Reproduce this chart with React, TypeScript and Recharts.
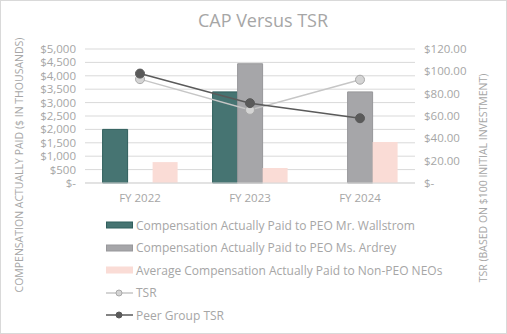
import React from 'react';
import { ComposedChart, Bar, Line, XAxis, YAxis, CartesianGrid } from 'recharts';

const years = ['FY 2022', 'FY 2023', 'FY 2024'];
const capWallstrom: (number | null)[] = [2000, 3400, null];
const capArdrey: (number | null)[] = [null, 4450, 3400];
const capNonPeo: number[] = [780, 560, 1530];
const tsr: number[] = [93, 65.5, 92.5];
const peerTsr: number[] = [98, 71.5, 58];
const leftTicks = [0, 500, 1000, 1500, 2000, 2500, 3000, 3500, 4000, 4500, 5000];
const rightTicks = [0, 20, 40, 60, 80, 100, 120];

const data = years.map((y, i) => ({
  year: y,
  wallstrom: capWallstrom[i],
  ardrey: capArdrey[i],
  nonpeo: capNonPeo[i],
  tsr: tsr[i],
  peer: peerTsr[i],
}));

const FONT = '"Open Sans", sans-serif';
const TXT = '#a6a6a6';

const legendItems = [
  { name: 'Compensation Actually Paid to PEO Mr. Wallstrom', type: 'bar', fill: '#467472', stroke: '#2f5e5c' },
  { name: 'Compensation Actually Paid to PEO Ms. Ardrey', type: 'bar', fill: '#a6a6a9', stroke: '#98989b' },
  { name: 'Average Compensation Actually Paid to Non-PEO NEOs', type: 'bar', fill: '#fadcd6', stroke: '#fadcd6' },
  { name: 'TSR', type: 'line', fill: '#d4d4d4', stroke: '#c6c6c6', dotStroke: '#a9a9a9' },
  { name: 'Peer Group TSR', type: 'line', fill: '#5a5a5a', stroke: '#5a5a5a', dotStroke: '#5a5a5a' },
];

const ChartLegend = () => (
  <div
    style={{
      position: 'absolute', left: 106, top: 214, fontFamily: FONT, fontSize: 12, color: TXT,
      whiteSpace: 'nowrap',
    }}
  >
    {legendItems.map((it) => (
      <div key={it.name} style={{ display: 'flex', alignItems: 'center', height: 22.5 }}>
        <svg width={28} height={10} style={{ marginRight: 2 }}>
          {it.type === 'bar' ? (
            <rect x={0.5} y={2} width={26} height={6} fill={it.fill} stroke={it.stroke} />
          ) : (
            <g>
              <line x1={0} y1={5} x2={27} y2={5} stroke={it.stroke} strokeWidth={1.5} />
              <circle cx={13} cy={5} r={3} fill={it.fill} stroke={it.dotStroke} />
            </g>
          )}
        </svg>
        <span>{it.name}</span>
      </div>
    ))}
  </div>
);

const leftFmt = (v: number) => (v === 0 ? '$-' : '$' + v.toLocaleString('en-US'));
const rightFmt = (v: number) => (v === 0 ? '$-' : '$' + v.toFixed(2));

export default function App() {
  return (
    <div style={{ position: 'absolute', left: 0, top: 0, width: 507, height: 334, background: '#fff' }}>
      <div
        style={{
          position: 'absolute', left: 0, top: 0, width: 507, height: 334, boxSizing: 'border-box',
          border: '1px solid #d9d9d9', pointerEvents: 'none', zIndex: 2,
        }}
      />
      <div
        style={{
          position: 'absolute', left: 263, top: 6, transform: 'translateX(-50%)', whiteSpace: 'nowrap',
          fontFamily: FONT, fontSize: 18, color: TXT, lineHeight: '28px',
        }}
      >
        CAP Versus TSR
      </div>
      <ComposedChart
        width={507}
        height={334}
        data={data}
        margin={{ top: 49, right: 0, bottom: 121, left: 0 }}
        barCategoryGap="16%"
        barGap={0}
      >
        <CartesianGrid vertical={false} stroke="#d9d9d9" yAxisId="left" />
        <XAxis
          dataKey="year"
          height={30}
          tickLine={false}
          tickSize={0}
          tickMargin={11}
          axisLine={{ stroke: '#d9d9d9' }}
          tick={{ fill: TXT, fontSize: 11.5, fontFamily: FONT }}
        />
        <YAxis
          yAxisId="left"
          orientation="left"
          width={85}
          domain={[0, 5000]}
          ticks={leftTicks}
          interval={0}
          tickFormatter={leftFmt}
          tickLine={false}
          axisLine={false}
          tickSize={0}
          tickMargin={9}
          tick={{ fill: TXT, fontSize: 11.5, fontFamily: FONT }}
          label={{
            content: () => (
              <text
                transform="translate(23,165) rotate(-90)"
                textAnchor="middle"
                fill={TXT}
                fontSize={10.5}
                fontFamily={FONT}
              >
                COMPENSATION ACTUALLY PAID ($ IN THOUSANDS)
              </text>
            ),
          }}
        />
        <YAxis
          yAxisId="right"
          orientation="right"
          width={92}
          domain={[0, 120]}
          ticks={rightTicks}
          interval={0}
          tickFormatter={rightFmt}
          tickLine={false}
          axisLine={false}
          tickSize={0}
          tickMargin={9}
          tick={{ fill: TXT, fontSize: 11.5, fontFamily: FONT }}
          label={{
            content: () => (
              <text
                transform="translate(487,178) rotate(-90)"
                textAnchor="middle"
                fill={TXT}
                fontSize={10.5}
                fontFamily={FONT}
              >
                TSR (BASED ON $100 INITIAL INVESTMENT)
              </text>
            ),
          }}
        />
        <Bar yAxisId="left" dataKey="wallstrom" name="Compensation Actually Paid to PEO Mr. Wallstrom" fill="#467472" stroke="#2f5e5c" strokeWidth={1} isAnimationActive={false} />
        <Bar yAxisId="left" dataKey="ardrey" name="Compensation Actually Paid to PEO Ms. Ardrey" fill="#a6a6a9" stroke="#98989b" strokeWidth={1} isAnimationActive={false} />
        <Bar yAxisId="left" dataKey="nonpeo" name="Average Compensation Actually Paid to Non-PEO NEOs" fill="#fadcd6" isAnimationActive={false} />
        <Line yAxisId="right" dataKey="tsr" name="TSR" stroke="#c6c6c6" strokeWidth={1.5} dot={{ r: 4.5, fill: '#d4d4d4', stroke: '#a9a9a9', strokeWidth: 1 }} isAnimationActive={false} />
        <Line yAxisId="right" dataKey="peer" name="Peer Group TSR" stroke="#5a5a5a" strokeWidth={1.5} dot={{ r: 4.5, fill: '#5a5a5a', stroke: '#5a5a5a', strokeWidth: 1 }} isAnimationActive={false} />
      </ComposedChart>
      <ChartLegend />
    </div>
  );
}
